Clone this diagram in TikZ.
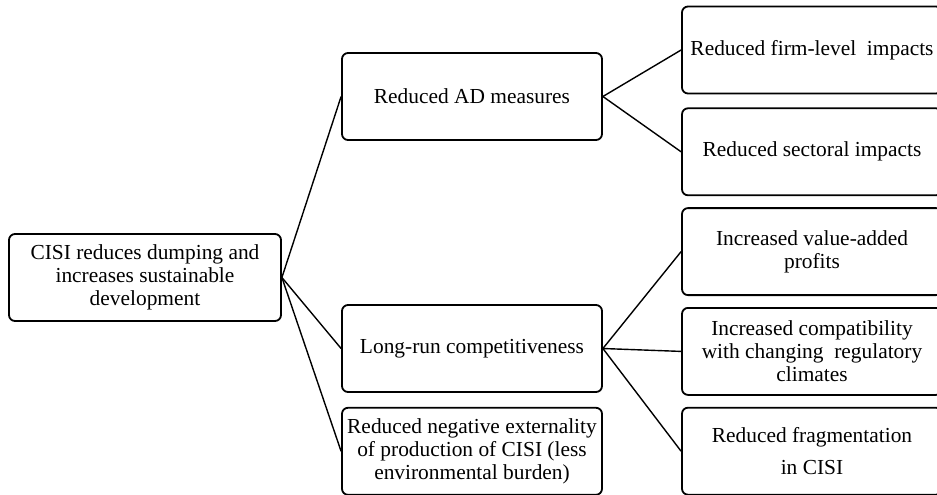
\documentclass[tikz,border=0pt]{standalone}
\usepackage{fontspec}
\setmainfont{Liberation Serif}
\usetikzlibrary{positioning}
\tikzset{
        box/.style={align=center, draw=black, line width=0.9pt, rounded corners=3pt, inner sep=1pt, font=\fontsize{10.7}{11.4}\selectfont},
        % Root box
        box_root/.style={box, minimum width=136pt, minimum height=43.5pt},
        % Outcome boxes
        box_out/.style={box, minimum width=130pt, minimum height=43.5pt},
        % Connectors
        link/.style={black, line width=0.7pt}
}
\begin{document}
\begin{tikzpicture}[x=0.5pt, y=-0.5pt, node distance=5.5pt]
            \clip (0,0) rectangle (937,494);
            \node[box_root] (root) at (145,277.5) {CISI reduces dumping and\\increases sustainable\\development};
            \node[box_out] (ad) at (472,96.5) {Reduced AD measures};
            \node[box_out] (lr) at (472,348.5) {Long-run competitiveness};
            \node[box_out, below=7pt of lr] (ext) {Reduced negative externality\\of production of CISI (less\\environmental burden)};
            \node[box_out] (firm) at (812,50) {Reduced firm-level\ \ impacts};
            \node[box_out, below=6.5pt of firm] (sect) {Reduced sectoral impacts};
            \node[box_out, below=of sect] (value) {Increased value-added\\profits};
            \node[box_out, below=of value] (compat) {Increased compatibility\\with changing\ \ regulatory\\climates};
            \node[box_out, below=of compat] (frag) {Reduced fragmentation\\[4.5pt]in CISI};
            \draw[link] (root.east) -- (ad.west);
            \draw[link] (root.east) -- (lr.west);
            \draw[link] (root.east) -- (ext.west);
            \draw[link] (ad.east) -- (firm.west);
            \draw[link] (ad.east) -- (sect.west);
            \draw[link] (lr.east) -- (value.west);
            \draw[link] (lr.east) -- (compat.west);
            \draw[link] (lr.east) -- (frag.west);
\end{tikzpicture}
\end{document}
